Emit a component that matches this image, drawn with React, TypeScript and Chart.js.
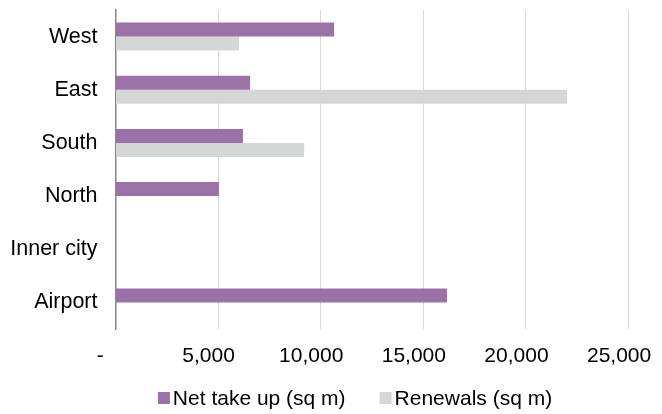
import React, { useEffect, useRef } from "react";
import { Chart, registerables } from "chart.js";

Chart.register(...registerables);

const categories = ["West", "East", "South", "North", "Inner city", "Airport"];
const netTakeUp = [10650, 6560, 6210, 5040, null, 16150];
const renewals = [6020, 22000, 9190, null, null, null];
const seriesNames = ["Net take up (sq m)", "Renewals (sq m)"];
const xTicks = [0, 5000, 10000, 15000, 20000, 25000];

const FONT = '"Liberation Sans", Arial, sans-serif';
const PURPLE = "#9b72a8";
const GRAY = "#d5d6d8";

const customLegend = {
  id: "customLegend",
  afterDraw(chart: any) {
    const ctx = chart.ctx;
    ctx.save();
    ctx.font = `21px ${FONT}`;
    ctx.textBaseline = "alphabetic";
    ctx.textAlign = "left";
    const box = 12;
    const gap = 3;
    const itemGap = 34;
    const items = chart.data.datasets.map((d: any) => ({
      text: d.label,
      color: d.backgroundColor,
      w: ctx.measureText(d.label).width,
    }));
    const total =
      items.reduce((s: number, it: any) => s + box + gap + it.w, 0) +
      itemGap * (items.length - 1);
    let x = 355 - total / 2;
    const baseline = 405;
    for (const it of items) {
      ctx.fillStyle = it.color;
      ctx.fillRect(x, 392, box, box);
      x += box + gap;
      ctx.fillStyle = "#000";
      ctx.fillText(it.text, x, baseline);
      x += it.w + itemGap;
    }
    ctx.restore();
  },
};

const zeroPad = (scale: any) => {
  scale.paddingLeft = 0;
  scale.paddingRight = 0;
  scale.paddingTop = 0;
  scale.paddingBottom = 0;
};

export default function App() {
  const ref = useRef<HTMLCanvasElement>(null);
  useEffect(() => {
    if (!ref.current) return;
    const chart = new Chart(ref.current, {
      type: "bar",
      data: {
        labels: categories,
        datasets: [
          { label: seriesNames[0], data: netTakeUp, backgroundColor: PURPLE, borderWidth: 0 },
          { label: seriesNames[1], data: renewals, backgroundColor: GRAY, borderWidth: 0 },
        ],
      },
      options: {
        indexAxis: "y",
        responsive: false,
        animation: false,
        devicePixelRatio: 1,
        layout: { padding: { top: 10, right: 33.4, left: 0, bottom: 44.8 } },
        datasets: { bar: { categoryPercentage: 0.526, barPercentage: 1 } },
        plugins: { legend: { display: false }, tooltip: { enabled: false } },
        scales: {
          x: {
            type: "linear",
            min: 0,
            max: 25000,
            afterBuildTicks: (scale: any) => {
              scale.ticks = xTicks.map((v) => ({ value: v }));
            },
            afterFit: (scale: any) => {
              zeroPad(scale);
              scale.height = 40.2;
            },
            grid: { color: "#d9d9d9", lineWidth: 1, drawTicks: false },
            border: { display: false },
            ticks: {
              padding: 15,
              labelOffset: -9.5,
              color: "#000",
              font: { family: FONT, size: 21 },
              callback: (v: any) => (Number(v) === 0 ? "-  " : Number(v).toLocaleString("en-US")),
            },
          },
          y: {
            type: "category",
            afterFit: (scale: any) => {
              zeroPad(scale);
              scale.width = 115.5;
            },
            grid: { display: false },
            border: { display: true, color: "#868686", width: 1.5 },
            ticks: {
              padding: 10,
              color: "#000",
              font: { family: FONT, size: 21.5 },
            },
          },
        },
      },
      plugins: [customLegend],
    });
    return () => chart.destroy();
  }, []);
  return (
    <div style={{ position: "fixed", left: 0, top: 0, width: 662, height: 414, background: "#fff" }}>
      <canvas ref={ref} width={662} height={414} style={{ display: "block" }} />
    </div>
  );
}
